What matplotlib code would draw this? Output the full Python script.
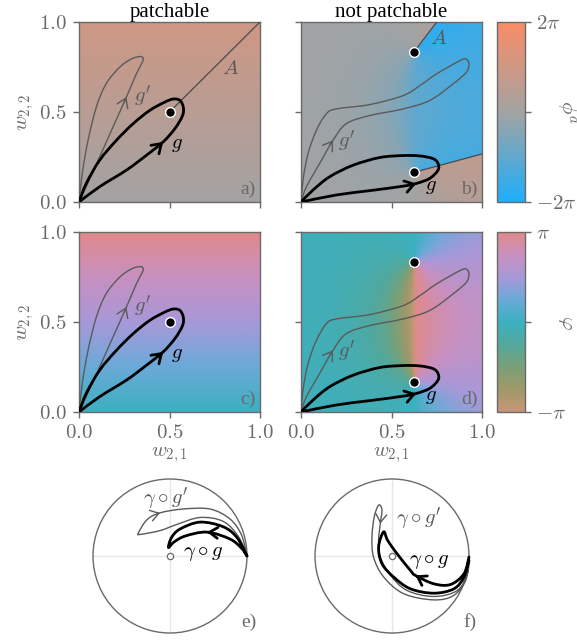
import numpy as np
import matplotlib
matplotlib.use('Agg')
import matplotlib.pyplot as plt
from matplotlib.colors import LinearSegmentedColormap
from matplotlib.path import Path
from matplotlib.patches import PathPatch, Circle, FancyArrowPatch

plt.rcParams['mathtext.fontset'] = 'cm'
plt.rcParams['font.family'] = ['Liberation Serif', 'DejaVu Serif']

GRAY = '#6a6a6a'
LGRAY = '#5a5a5a'

# ---------------- data ----------------
titles = ['patchable', 'not patchable']
panel_letters = ['a)', 'b)', 'c)', 'd)']
ticks = [0.0, 0.5, 1.0]
tick_labels = ['$0.0$', '$0.5$', '$1.0$']
cb1_ticks = [-2 * np.pi, 0, 2 * np.pi]
cb1_labels = ['$-2\\pi$', '', '$2\\pi$']
cb2_ticks = [-np.pi, 0, np.pi]
cb2_labels = ['$-\\pi$', '', '$\\pi$']

patch_point = (0.5, 0.5)
defect_x = 0.625
defect_y = [0.165, 0.835]
cut_a = ([0.5, 1.0], [0.5, 1.0])
cut_upper = ([0.625, 0.75], [0.835, 1.0])
cut_lower = ([0.625, 1.0], [0.165, 0.267])

# colormap stops (evenly spaced from min to max)
cmap_phia_colors = ['#1eaefa', '#a3a3a3', '#fa8c66']
cmap_phi_colors = ['#c8967a', '#a09868', '#7aa078', '#52a89c', '#3cb0c0',
                   '#6aaad8', '#a898d8', '#c890c0', '#e08a8a']

# loops in the w-plane (patchable)
g_a_x = [0.0, 0.114, 0.262, 0.373, 0.465, 0.53, 0.572, 0.576, 0.557, 0.52,
         0.474, 0.391, 0.299, 0.207, 0.114, 0.04, 0.0]
g_a_y = [0.0, 0.085, 0.177, 0.26, 0.334, 0.408, 0.48, 0.528, 0.565, 0.572,
         0.555, 0.509, 0.435, 0.343, 0.232, 0.103, 0.0]
gp_a_x = [0.0, 0.04, 0.114, 0.188, 0.262, 0.317, 0.35, 0.354, 0.336, 0.29,
          0.225, 0.15, 0.096, 0.05, 0.018, 0.0]
gp_a_y = [0.0, 0.085, 0.25, 0.417, 0.583, 0.712, 0.777, 0.80, 0.808, 0.795,
          0.749, 0.657, 0.528, 0.343, 0.159, 0.0]
# loops in the w-plane (not patchable)
g_b_x = [0.0, 0.195, 0.379, 0.564, 0.637, 0.711, 0.757, 0.757, 0.729, 0.656,
         0.564, 0.435, 0.287, 0.158, 0.066, 0.0]
g_b_y = [0.0, 0.039, 0.063, 0.088, 0.103, 0.131, 0.177, 0.214, 0.241, 0.256,
         0.258, 0.247, 0.204, 0.14, 0.066, 0.0]
gp_b_x = [0.0, 0.03, 0.103, 0.177, 0.25, 0.379, 0.564, 0.711, 0.84, 0.913,
          0.928, 0.913, 0.877, 0.748, 0.656, 0.564, 0.379, 0.195, 0.14, 0.085,
          0.039, 0.011, 0.0]
gp_b_y = [0.0, 0.085, 0.214, 0.343, 0.435, 0.48, 0.517, 0.564, 0.656, 0.72,
          0.766, 0.794, 0.785, 0.711, 0.646, 0.591, 0.541, 0.517, 0.49, 0.398,
          0.269, 0.122, 0.0]
arrow_g_a = 4
arrow_gp_a = 4
arrow_g_b = 4
arrow_gp_b = 3

# images on the unit circle
ge_x = [1.0, 0.93, 0.78, 0.48, 0.2, 0.05, -0.02, 0.02, 0.13, 0.39, 0.69, 0.87, 1.0]
ge_y = [0.0, 0.10, 0.22, 0.31, 0.26, 0.18, 0.11, 0.24, 0.35, 0.44, 0.38, 0.24, 0.0]
gpe_x = [1.0, 0.89, 0.69, 0.39, 0.09, -0.13, -0.39, -0.41, -0.30, -0.13, 0.17, 0.52, 0.78, 0.93, 1.0]
gpe_y = [0.0, 0.25, 0.45, 0.50, 0.41, 0.33, 0.28, 0.30, 0.47, 0.56, 0.61, 0.61, 0.48, 0.27, 0.0]
gf_x = [1.0, 0.935, 0.761, 0.543, 0.304, 0.239, 0.065, -0.057, -0.109, -0.174, -0.13,
        0.022, 0.239, 0.543, 0.804, 0.935, 1.0]
gf_y = [-0.013, -0.23, -0.37, -0.361, -0.252, -0.187, 0.03, 0.204, 0.313, 0.117, -0.1,
        -0.274, -0.426, -0.483, -0.426, -0.274, -0.057]
gpf_x = [1.0, 0.957, 0.80, 0.543, 0.152, -0.11, -0.24, -0.26, -0.23, -0.174, -0.13,
         -0.152, -0.174, -0.152, -0.02, 0.196, 0.543, 0.848, 0.978, 1.0]
gpf_y = [-0.057, -0.317, -0.513, -0.57, -0.49, -0.27, -0.013, 0.25, 0.51, 0.661, 0.6,
         0.42, 0.2, -0.013, -0.25, -0.448, -0.526, -0.448, -0.23, -0.035]
arrow_ge = 3
arrow_gpe = 9
arrow_gf = 4
arrow_gpf = 11


# ---------------- helpers ----------------
def smooth_path(xs, ys):
    P = np.column_stack([xs, ys]).astype(float)
    n = len(P)
    verts = [P[0]]
    codes = [Path.MOVETO]
    for i in range(n - 1):
        p0 = P[i - 1] if i > 0 else P[i]
        p1 = P[i]
        p2 = P[i + 1]
        p3 = P[i + 2] if i + 2 < n else P[i + 1]
        verts += [p1 + (p2 - p0) / 6.0, p2 - (p3 - p1) / 6.0, p2]
        codes += [Path.CURVE4] * 3
    return Path(verts, codes)


def draw_curve(ax, xs, ys, idx, color, lw, ms=14):
    ax.add_patch(PathPatch(smooth_path(xs, ys), fill=False, ec=color, lw=lw,
                           capstyle='round', joinstyle='round', zorder=4))
    P = np.column_stack([xs, ys]).astype(float)
    d = P[idx + 1] - P[idx - 1]
    d = d / np.hypot(*d)
    tip = P[idx]
    tail = tip - 0.03 * d
    ax.add_patch(FancyArrowPatch(tail, tip, arrowstyle='->,head_length=0.45,head_width=0.3',
                                 mutation_scale=ms, color=color, lw=lw, zorder=5,
                                 shrinkA=0, shrinkB=0))


cmap_phia = LinearSegmentedColormap.from_list('phia', cmap_phia_colors)
cmap_phi = LinearSegmentedColormap.from_list('phi', cmap_phi_colors)

# ---------------- fields ----------------
N = 400
s = (np.arange(N) + 0.5) / N
X, Y = np.meshgrid(s, s)
phia_patch = np.pi * Y
phi_patch = np.angle(np.exp(1j * phia_patch))

dx = X - defect_x
dxs = np.where(dx < 0, 1.5 * dx, dx)
P = np.angle((dxs + 1j * (Y - defect_y[0])) / (dxs + 1j * (Y - defect_y[1])))
S = np.where(dx < 0, np.pi * np.sign(P) * (np.abs(P) / np.pi) ** 2, P)
f = 0.7 * np.clip(dx / (1 - defect_x), 0, 1)
phi_np = np.angle(np.exp(1j * (S + f)))
ylow = cut_lower[1][0] + (X - cut_lower[0][0]) * (cut_lower[1][1] - cut_lower[1][0]) / (cut_lower[0][1] - cut_lower[0][0])
xup = cut_upper[0][0] + (Y - cut_upper[1][0]) * (cut_upper[0][1] - cut_upper[0][0]) / (cut_upper[1][1] - cut_upper[1][0])
R = (X > defect_x) & (Y > ylow) & ((Y < defect_y[1]) | (X > xup))
phia_np = np.where(R, phi_np - 2 * np.pi, phi_np)

# ---------------- figure ----------------
W, H = 577, 640
fig = plt.figure(figsize=(W / 100, H / 100), dpi=100)


def ax_px(x0, y0, x1, y1):
    return fig.add_axes([x0 / W, 1 - y1 / H, (x1 - x0) / W, (y1 - y0) / H])


axa = ax_px(79, 22, 260, 202)
axb = ax_px(301, 22, 482, 202)
axc = ax_px(79, 232, 260, 412)
axd = ax_px(301, 232, 482, 412)
cax1 = ax_px(497, 22, 525, 202)
cax2 = ax_px(497, 232, 525, 412)

FS = 15
im1 = axa.imshow(phia_patch, extent=[0, 1, 0, 1], origin='lower', cmap=cmap_phia,
                 vmin=-2 * np.pi, vmax=2 * np.pi, aspect='auto', interpolation='bilinear')
axb.imshow(phia_np, extent=[0, 1, 0, 1], origin='lower', cmap=cmap_phia,
           vmin=-2 * np.pi, vmax=2 * np.pi, aspect='auto', interpolation='bilinear')
im2 = axc.imshow(phi_patch, extent=[0, 1, 0, 1], origin='lower', cmap=cmap_phi,
                 vmin=-np.pi, vmax=np.pi, aspect='auto', interpolation='bilinear')
axd.imshow(phi_np, extent=[0, 1, 0, 1], origin='lower', cmap=cmap_phi,
           vmin=-np.pi, vmax=np.pi, aspect='auto', interpolation='bilinear')

for i, ax in enumerate([axa, axb, axc, axd]):
    ax.set_xlim(0, 1)
    ax.set_ylim(0, 1)
    ax.set_xticks(ticks)
    ax.set_yticks(ticks)
    ax.set_xticklabels(tick_labels if i >= 2 else [])
    ax.set_yticklabels(tick_labels if i % 2 == 0 else [])
    ax.tick_params(direction='out', length=4, width=1, color=GRAY, labelcolor=GRAY,
                   labelsize=FS, pad=5)
    for sp in ax.spines.values():
        sp.set_color(GRAY)
        sp.set_linewidth(1)
    ax.text(0.975, 0.025, panel_letters[i], transform=ax.transAxes, ha='right',
            va='bottom', color=GRAY, fontsize=FS - 1)

axa.set_title(titles[0], fontsize=FS, pad=3)
axb.set_title(titles[1], fontsize=FS, pad=3)
for ax in [axa, axc]:
    ax.set_ylabel('$w_{2,2}$', color=GRAY, fontsize=FS, labelpad=2)
for ax in [axc, axd]:
    ax.set_xlabel('$w_{2,1}$', color=GRAY, fontsize=FS, labelpad=1)

# curves and decorations
for ax in [axa, axc]:
    draw_curve(ax, gp_a_x, gp_a_y, arrow_gp_a, LGRAY, 1.0)
    draw_curve(ax, g_a_x, g_a_y, arrow_g_a, 'black', 2.0)
    ax.plot(*patch_point, 'o', color='black', mec='white', mew=1, ms=7, zorder=6)
    ax.text(0.35, 0.59, "$g'$", color=LGRAY, fontsize=FS, ha='center', va='center')
    ax.text(0.54, 0.32, '$g$', color='black', fontsize=FS, ha='center', va='center')
axa.plot(*cut_a, color='#4a4a4a', lw=0.9, zorder=3)
axa.text(0.835, 0.735, '$A$', color=LGRAY, fontsize=FS, ha='center', va='center')

for ax in [axb, axd]:
    draw_curve(ax, gp_b_x, gp_b_y, arrow_gp_b, LGRAY, 1.0)
    draw_curve(ax, g_b_x, g_b_y, arrow_g_b, 'black', 2.0)
    ax.plot([defect_x] * 2, defect_y, 'o', color='black', mec='white', mew=1, ms=7, zorder=6)
    ax.text(0.254, 0.34, "$g'$", color=LGRAY, fontsize=FS, ha='center', va='center')
    ax.text(0.72, 0.085, '$g$', color='black', fontsize=FS, ha='center', va='center')
axb.plot(*cut_upper, color='#4a4a4a', lw=0.9, zorder=3)
axb.plot(*cut_lower, color='#4a4a4a', lw=0.9, zorder=3)
axb.text(0.76, 0.9, '$A$', color=LGRAY, fontsize=FS, ha='center', va='center')

# colorbars
cb1 = fig.colorbar(im1, cax=cax1, ticks=cb1_ticks)
cb1.ax.set_yticklabels(cb1_labels)
cb2 = fig.colorbar(im2, cax=cax2, ticks=cb2_ticks)
cb2.ax.set_yticklabels(cb2_labels)
for cb in [cb1, cb2]:
    cb.outline.set_edgecolor(GRAY)
    cb.outline.set_linewidth(1)
    cb.ax.tick_params(direction='out', length=4, width=1, color=GRAY, labelcolor=GRAY,
                      labelsize=FS, pad=4)
fig.text(566 / W, 1 - 112 / H, '$\\phi^a$', rotation=-90, color=GRAY, fontsize=FS,
         ha='center', va='center')
fig.text(566 / W, 1 - 322 / H, '$\\varphi$', rotation=-90, color=GRAY, fontsize=FS,
         ha='center', va='center')

# circle panels
def circle_ax(cx, cy, r=77):
    x0, x1 = cx - 85, cx + 85
    y0, y1 = 470, 640
    ax = ax_px(x0, y0, x1, y1)
    ax.set_xlim((x0 - cx) / r, (x1 - cx) / r)
    ax.set_ylim((cy - y1) / r, (cy - y0) / r)
    ax.axis('off')
    ax.plot([-1, 1], [0, 0], color='#e6e6e6', lw=1, zorder=1)
    ax.plot([0, 0], [-1, 1], color='#e6e6e6', lw=1, zorder=1)
    ax.add_patch(Circle((0, 0), 1, fill=False, ec=GRAY, lw=1, zorder=2))
    ax.plot(0, 0, 'o', mfc='white', mec=GRAY, ms=4.5, mew=0.9, zorder=6)
    return ax


axe = circle_ax(170, 556)
axf = circle_ax(392, 556)
draw_curve(axe, gpe_x, gpe_y, arrow_gpe, LGRAY, 1.0, ms=13)
draw_curve(axe, ge_x, ge_y, arrow_ge, 'black', 2.0, ms=13)
draw_curve(axf, gpf_x, gpf_y, arrow_gpf, LGRAY, 1.0, ms=13)
draw_curve(axf, gf_x, gf_y, arrow_gf, 'black', 2.0, ms=13)
axe.text(-0.05, 0.75, "$\\gamma\\circ g'$", color=LGRAY, fontsize=FS, ha='center', va='center')
axe.text(0.43, 0.03, '$\\gamma\\circ g$', color='black', fontsize=FS, ha='center', va='center')
axf.text(0.35, 0.49, "$\\gamma\\circ g'$", color=LGRAY, fontsize=FS, ha='center', va='center')
axf.text(0.48, -0.07, '$\\gamma\\circ g$', color='black', fontsize=FS, ha='center', va='center')
axe.text(1.03, -0.86, 'e)', color=GRAY, fontsize=FS - 1, ha='center', va='center')
axf.text(1.01, -0.86, 'f)', color=GRAY, fontsize=FS - 1, ha='center', va='center')

fig.savefig('out.png', dpi=100)
